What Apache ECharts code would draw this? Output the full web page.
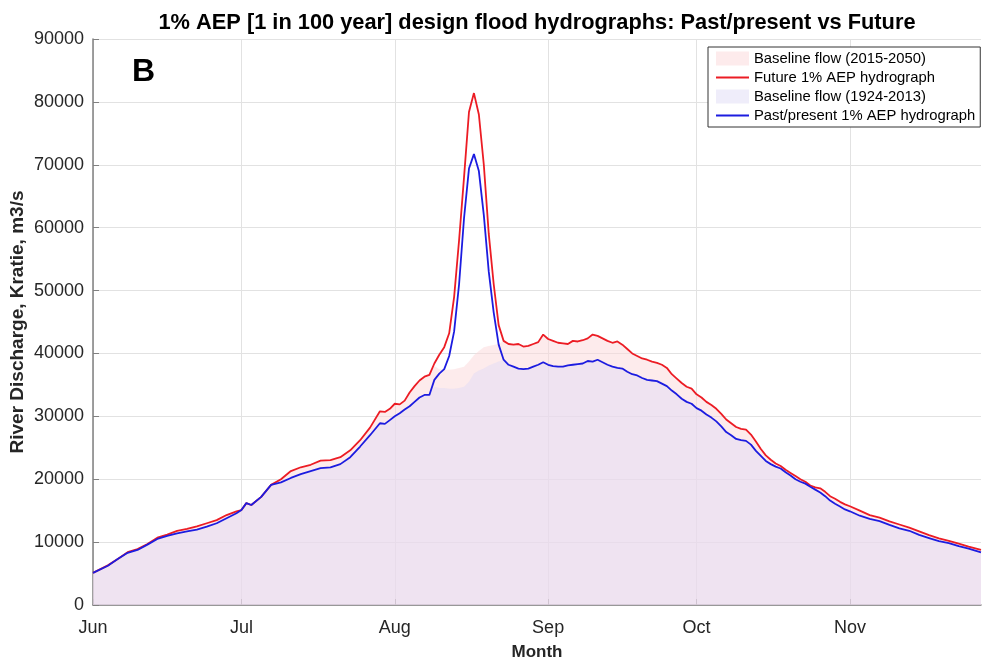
<!DOCTYPE html>
<html>
<head>
<meta charset="utf-8">
<script src="https://cdn.jsdelivr.net/npm/echarts@6/dist/echarts.min.js"></script>
<style>
  html, body { margin: 0; padding: 0; background: #fff; }
  #chart { width: 982px; height: 662px; }
</style>
</head>
<body>
<div id="chart"></div>
<script>
// days counted from 1 June
const days = [0, 3, 5, 7, 9, 11, 13, 15, 17, 19, 21, 23, 25, 27, 29, 30, 31, 32, 34, 36, 38, 40, 42, 44, 46, 48, 50, 52, 54, 56, 58, 59, 60, 61, 62, 63, 64, 65, 66, 67, 68, 69, 70, 71, 72, 73, 74, 75, 76, 77, 78, 79, 80, 81, 82, 83, 84, 85, 86, 87, 88, 89, 90, 91, 92, 93, 94, 95, 96, 97, 98, 99, 100, 101, 102, 103, 104, 105, 106, 107, 108, 109, 110, 111, 112, 113, 114, 115, 116, 117, 118, 119, 120, 121, 122, 123, 124, 125, 126, 127, 128, 129, 130, 131, 132, 133, 134, 135, 136, 137, 138, 139, 140, 141, 142, 143, 144, 145, 146, 147, 148, 149, 150, 151, 152, 153, 155, 157, 159, 161, 163, 165, 167, 169, 171, 173, 175, 177, 179.5]

const futureHydro = [5100, 6300, 7300, 8400, 8900, 9700, 10700, 11200, 11800, 12100, 12500, 13000, 13500, 14300, 14900, 15100, 16200, 15900, 17200, 19100, 20000, 21300, 21900, 22300, 22950, 23050, 23500, 24600, 26200, 28200, 30800, 30700, 31200, 32000, 31900, 32500, 33800, 34800, 35700, 36300, 36600, 38400, 39800, 41000, 43200, 49000, 58000, 68000, 78400, 81400, 78000, 70000, 59000, 51000, 44500, 42000, 41500, 41400, 41500, 41100, 41200, 41500, 41800, 43000, 42300, 42000, 41700, 41600, 41500, 42000, 41900, 42100, 42400, 43000, 42800, 42400, 42000, 41700, 41900, 41400, 40700, 40000, 39600, 39200, 39000, 38700, 38500, 38200, 37700, 36700, 36000, 35300, 34700, 34400, 33500, 33000, 32300, 31800, 31200, 30400, 29500, 28900, 28300, 28000, 27900, 27100, 26000, 24800, 23800, 23100, 22500, 22100, 21500, 21000, 20500, 20000, 19600, 19000, 18700, 18550, 18000, 17300, 16900, 16400, 16000, 15700, 15000, 14300, 13900, 13300, 12800, 12300, 11700, 11100, 10600, 10200, 9750, 9300, 8750]

const pastHydro = [5100, 6250, 7300, 8300, 8750, 9600, 10500, 11000, 11400, 11700, 12000, 12450, 13000, 13800, 14600, 15100, 16200, 15900, 17200, 19100, 19500, 20200, 20800, 21300, 21750, 21900, 22400, 23500, 25200, 27000, 28900, 28800, 29400, 30000, 30500, 31100, 31600, 32300, 33000, 33400, 33400, 35800, 36800, 37500, 39600, 43500, 51000, 61500, 69400, 71700, 69000, 62000, 53000, 46500, 41400, 39000, 38200, 37900, 37600, 37500, 37600, 37900, 38200, 38600, 38200, 38000, 37900, 37900, 38100, 38200, 38300, 38400, 38800, 38700, 39000, 38600, 38200, 37900, 37700, 37600, 37100, 36700, 36500, 36100, 35800, 35700, 35600, 35200, 34800, 34100, 33500, 32800, 32300, 32000, 31300, 30900, 30300, 29800, 29200, 28400, 27500, 27000, 26400, 26200, 26100, 25500, 24500, 23700, 22900, 22400, 22000, 21700, 21100, 20600, 20000, 19600, 19300, 18800, 18350, 17900, 17300, 16600, 16100, 15650, 15200, 14900, 14200, 13700, 13350, 12750, 12200, 11800, 11150, 10650, 10150, 9850, 9350, 8950, 8380]

const futureBase = [5100, 6300, 7300, 8400, 8900, 9700, 10700, 11200, 11800, 12100, 12500, 13000, 13500, 14300, 14900, 15100, 16200, 15900, 17200, 19100, 20000, 21300, 21900, 22300, 22950, 23050, 23500, 24600, 26200, 28200, 30800, 30700, 31200, 32000, 31900, 32500, 33800, 34800, 35700, 36300, 36600, 38000, 37500, 37400, 37400, 37500, 37700, 37900, 38700, 39700, 40400, 41000, 41200, 41350, 41500, 42000, 41500, 41400, 41500, 41100, 41200, 41500, 41800, 43000, 42300, 42000, 41700, 41600, 41500, 42000, 41900, 42100, 42400, 43000, 42800, 42400, 42000, 41700, 41900, 41400, 40700, 40000, 39600, 39200, 39000, 38700, 38500, 38200, 37700, 36700, 36000, 35300, 34700, 34400, 33500, 33000, 32300, 31800, 31200, 30400, 29500, 28900, 28300, 28000, 27900, 27100, 26000, 24800, 23800, 23100, 22500, 22100, 21500, 21000, 20500, 20000, 19600, 19000, 18700, 18550, 18000, 17300, 16900, 16400, 16000, 15700, 15000, 14300, 13900, 13300, 12800, 12300, 11700, 11100, 10600, 10200, 9750, 9300, 8750]

const pastBase = [5100, 6250, 7300, 8300, 8750, 9600, 10500, 11000, 11400, 11700, 12000, 12450, 13000, 13800, 14600, 15100, 16200, 15900, 17200, 19100, 19500, 20200, 20800, 21300, 21750, 21900, 22400, 23500, 25200, 27000, 28900, 28800, 29400, 30000, 30500, 31100, 31600, 32300, 33000, 33400, 33400, 34700, 34500, 34500, 34400, 34400, 34500, 34700, 35500, 36800, 37300, 37600, 38100, 38400, 38700, 39000, 38200, 37900, 37600, 37500, 37600, 37900, 38200, 38600, 38200, 38000, 37900, 37900, 38100, 38200, 38300, 38400, 38800, 38700, 39000, 38600, 38200, 37900, 37700, 37600, 37100, 36700, 36500, 36100, 35800, 35700, 35600, 35200, 34800, 34100, 33500, 32800, 32300, 32000, 31300, 30900, 30300, 29800, 29200, 28400, 27500, 27000, 26400, 26200, 26100, 25500, 24500, 23700, 22900, 22400, 22000, 21700, 21100, 20600, 20000, 19600, 19300, 18800, 18350, 17900, 17300, 16600, 16100, 15650, 15200, 14900, 14200, 13700, 13350, 12750, 12200, 11800, 11150, 10650, 10150, 9850, 9350, 8950, 8380]

const months = ['Jun', 'Jul', 'Aug', 'Sep', 'Oct', 'Nov']
const monthStart = [0, 30, 61, 92, 122, 153]

const names = ['Baseline flow (2015-2050)', 'Future 1% AEP hydrograph', 'Baseline flow (1924-2013)', 'Past/present 1% AEP hydrograph']

function pairs(vals) {
  return days.map((d, i) => [d, vals[i]])
}

const FONT = 'Arial, "Liberation Sans", Helvetica, sans-serif'
const pinkFill = 'rgba(251,215,217,0.5)'
const lilacFill = 'rgba(225,219,246,0.5)'
const redLine = '#ec1c24'
const blueLine = '#1c1ce0'
// thin bar used as the legend mark of the two hydrograph lines
const lineIcon = 'path://M0,0H34V2H0Z'

let chart = echarts.init(document.getElementById('chart'))

let option = {
  animation: false,
  backgroundColor: '#fff',
  textStyle: { fontFamily: FONT },
  title: {
    text: '1% AEP [1 in 100 year] design flood hydrographs: Past/present vs Future',
    left: 532,
    top: 7,
    textAlign: 'center',
    textStyle: { fontFamily: FONT, fontSize: 21.8, fontWeight: 'bold', color: '#000' }
  },
  graphic: [
    {
      type: 'text', left: 132, top: 56,
      style: { text: 'B', font: 'bold 32px ' + FONT, fill: '#000' }
    }
  ],
  legend: {
    orient: 'vertical',
    left: 708,
    top: 47,
    padding: [3, 5, 3, 8],
    itemGap: 2,
    itemWidth: 33,
    itemHeight: 14,
    itemTextGap: 3,
    symbolKeepAspect: true,
    borderColor: '#333',
    borderWidth: 1,
    borderRadius: 0,
    backgroundColor: '#fff',
    textStyle: { fontFamily: FONT, fontSize: 14.8, color: '#000', lineHeight: 17 },
    data: [
      { name: names[0], icon: 'rect', itemStyle: { color: '#fdebec', borderWidth: 0 } },
      { name: names[1], icon: lineIcon, itemStyle: { color: redLine, borderWidth: 0 } },
      { name: names[2], icon: 'rect', itemStyle: { color: '#efedfa', borderWidth: 0 } },
      { name: names[3], icon: lineIcon, itemStyle: { color: blueLine, borderWidth: 0 } }
    ]
  },
  grid: { left: 93, right: 1, top: 39, bottom: 57, outerBoundsMode: 'none' },
  xAxis: {
    type: 'value',
    min: 0,
    max: 179.5,
    name: 'Month',
    nameLocation: 'middle',
    nameGap: 39,
    nameMoveOverlap: false,
    nameTextStyle: { fontFamily: FONT, fontSize: 17, fontWeight: 'bold', color: '#262626' },
    axisLine: { lineStyle: { color: '#808080', width: 1.5 } },
    axisTick: { inside: true, length: 6, customValues: monthStart, lineStyle: { color: '#808080' } },
    axisLabel: {
      customValues: monthStart,
      margin: 14,
      fontFamily: FONT, fontSize: 18, color: '#262626',
      formatter: v => months[monthStart.indexOf(v)]
    },
    splitLine: { show: true, lineStyle: { color: '#e2e2e2', width: 1 } }
  },
  yAxis: {
    type: 'value',
    min: 0,
    max: 90000,
    interval: 10000,
    name: 'River Discharge, Kratie, m3/s',
    nameLocation: 'middle',
    nameGap: 66,
    nameMoveOverlap: false,
    nameTextStyle: { fontFamily: FONT, fontSize: 19, fontWeight: 'bold', color: '#262626' },
    axisLine: { show: true, lineStyle: { color: '#808080', width: 1.5 } },
    axisTick: { show: true, inside: true, length: 6, lineStyle: { color: '#808080' } },
    axisLabel: { margin: 9, fontFamily: FONT, fontSize: 18, color: '#262626', formatter: v => String(v) },
    splitLine: { show: true, lineStyle: { color: '#e2e2e2', width: 1 } }
  },
  series: [
    {
      name: names[0], type: 'line', data: pairs(futureBase), symbol: 'none', z: 1,
      lineStyle: { width: 0, opacity: 0 }, itemStyle: { color: '#fdebec' },
      areaStyle: { color: pinkFill, opacity: 1 }
    },
    {
      name: names[2], type: 'line', data: pairs(pastBase), symbol: 'none', z: 2,
      lineStyle: { width: 0, opacity: 0 }, itemStyle: { color: '#efedfa' },
      areaStyle: { color: lilacFill, opacity: 1 }
    },
    {
      name: names[1], type: 'line', data: pairs(futureHydro), symbol: 'none', z: 3,
      lineStyle: { width: 1.8, color: redLine }, itemStyle: { color: redLine }
    },
    {
      name: names[3], type: 'line', data: pairs(pastHydro), symbol: 'none', z: 4,
      lineStyle: { width: 1.8, color: blueLine }, itemStyle: { color: blueLine }
    }
  ]
}

chart.setOption(option)
</script>
</body>
</html>
